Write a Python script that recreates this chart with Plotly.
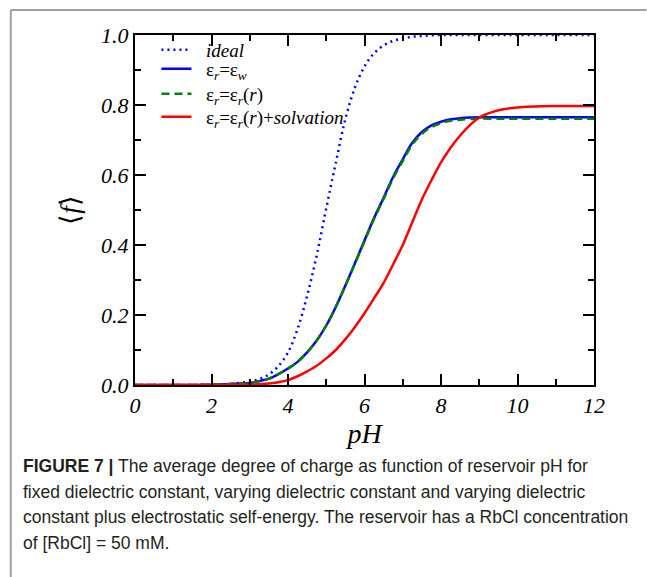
import plotly.graph_objects as go

ph = [0, 1, 2, 2.5, 3, 3.25, 3.5, 3.75, 4, 4.25, 4.5, 4.75, 5, 5.25, 5.5, 5.75,
      6, 6.25, 6.5, 6.75, 7, 7.25, 7.5, 7.75, 8, 8.25, 8.5, 8.75, 9, 9.5, 10, 11, 12]

f_ideal = [0, 0, 0.001, 0.003, 0.01, 0.017, 0.03, 0.054, 0.093, 0.16, 0.255, 0.37,
           0.505, 0.635, 0.76, 0.85, 0.91, 0.948, 0.97, 0.983, 0.99, 0.995, 0.997,
           0.999, 1.0, 1.0, 1.0, 1.0, 1.0, 1.0, 1.0, 1.0, 1.0]

f_epsw = [0, 0, 0.001, 0.003, 0.006, 0.011, 0.018, 0.031, 0.047, 0.066, 0.093, 0.127,
          0.170, 0.223, 0.284, 0.348, 0.413, 0.477, 0.535, 0.595, 0.645, 0.692, 0.723,
          0.742, 0.752, 0.759, 0.762, 0.764, 0.765, 0.765, 0.765, 0.765, 0.765]

f_epsr = [0, 0, 0.001, 0.003, 0.006, 0.011, 0.018, 0.031, 0.047, 0.066, 0.093, 0.127,
          0.170, 0.223, 0.284, 0.347, 0.411, 0.475, 0.532, 0.591, 0.640, 0.687, 0.718,
          0.737, 0.748, 0.755, 0.758, 0.760, 0.761, 0.761, 0.761, 0.761, 0.761]

f_solv = [0, 0, 0, 0.0005, 0.001, 0.002, 0.004, 0.008, 0.014, 0.025, 0.039, 0.055,
          0.076, 0.100, 0.131, 0.166, 0.205, 0.248, 0.292, 0.345, 0.40, 0.465, 0.53,
          0.585, 0.636, 0.678, 0.713, 0.742, 0.764, 0.785, 0.793, 0.797, 0.797]

pad = "\u00a0\u00a0"
names = [pad + "<i>ideal</i>",
         pad + "ε<sub><i>r</i></sub>=ε<sub><i>w</i></sub>",
         pad + "ε<sub><i>r</i></sub>=ε<sub><i>r</i></sub>(<i>r</i>)",
         pad + "ε<sub><i>r</i></sub>=ε<sub><i>r</i></sub>(<i>r</i>)+<i>solvation</i>"]

L, R, T, B = 134.5, 594.5, 35, 385
W, H = 647, 577
pw, phh = R - L, B - T

def px(x):
    return (x - L) / pw

def py(y):
    return (B - y) / phh

fig = go.Figure()
fig.add_trace(go.Scatter(x=ph, y=f_ideal, mode="lines", name=names[0], legend="legend",
                         line=dict(color="#0000ff", width=2.5, dash="2px,4px", shape="spline")))
fig.add_trace(go.Scatter(x=ph, y=f_epsw, mode="lines", name=names[1], legend="legend2",
                         line=dict(color="#0000ff", width=2.5, shape="spline")))
fig.add_trace(go.Scatter(x=ph, y=f_epsr, mode="lines", name=names[2], legend="legend3",
                         line=dict(color="#008000", width=2.5, dash="8px,5px", shape="spline")))
fig.add_trace(go.Scatter(x=ph, y=f_solv, mode="lines", name=names[3], legend="legend4",
                         line=dict(color="#ff0000", width=2.5, shape="spline")))

axis_font = dict(family="Liberation Serif", size=22, color="black")

def leg(top):
    return dict(x=px(156), y=py(top), xanchor="left", yanchor="top",
                bgcolor="rgba(0,0,0,0)", borderwidth=0,
                font=dict(family="Liberation Serif", size=19, color="black"),
                itemwidth=30)

fig.update_layout(
    width=W, height=H,
    margin=dict(l=L, r=W - R, t=T, b=H - B, pad=0),
    paper_bgcolor="white", plot_bgcolor="white",
    showlegend=True,
    legend=leg(31), legend2=leg(50), legend3=leg(75), legend4=leg(98),
    xaxis=dict(range=[0, 12], tickvals=[0, 2, 4, 6, 8, 10, 12],
               ticktext=["<i>0</i>", "<i>2</i>", "<i>4</i>", "<i>6</i>", "<i>8</i>", "<i>10</i>", "<i>12</i>"],
               ticks="inside", ticklen=11, tickwidth=2, tickcolor="black",
               minor=dict(dtick=1, ticks="inside", ticklen=6, tickwidth=2, tickcolor="black"),
               showline=True, linewidth=2, linecolor="black", mirror="ticks",
               showgrid=False, zeroline=False, tickfont=axis_font,
               title=dict(text="<i>pH</i>", font=dict(family="Liberation Serif", size=28, color="black"),
                          standoff=6)),
    yaxis=dict(range=[0, 1], tickvals=[0, 0.2, 0.4, 0.6, 0.8, 1.0],
               ticktext=["<i>0.0</i>", "<i>0.2</i>", "<i>0.4</i>", "<i>0.6</i>", "<i>0.8</i>", "<i>1.0</i>"],
               ticks="inside", ticklen=11, tickwidth=2, tickcolor="black",
               minor=dict(dtick=0.1, ticks="inside", ticklen=6, tickwidth=2, tickcolor="black"),
               showline=True, linewidth=2, linecolor="black", mirror="ticks",
               showgrid=False, zeroline=False, tickfont=axis_font,
               title=dict(text="⟨<i>f</i>⟩", font=dict(family="Liberation Serif", size=27, color="black"),
                          standoff=14)),
)

# figure frame (left and top border)
fig.add_shape(type="line", xref="paper", yref="paper",
              x0=px(10), y0=py(10), x1=px(W), y1=py(10),
              line=dict(color="#a0a0a0", width=2))
fig.add_shape(type="line", xref="paper", yref="paper",
              x0=px(10), y0=py(10), x1=px(10), y1=py(H),
              line=dict(color="#a0a0a0", width=2))

cap_font = dict(family="Liberation Sans", size=17.5, color="#231f20")
lines = [
    "<b>FIGURE 7 |</b> The average degree of charge as function of reservoir pH for",
    "fixed dielectric constant, varying dielectric constant and varying dielectric",
    "constant plus electrostatic self-energy. The reservoir has a RbCl concentration",
    "of [RbCl] = 50 mM.",
]
ys = [466, 492, 517, 543]
for t, yy in zip(lines, ys):
    fig.add_annotation(text=t, xref="paper", yref="paper", x=px(20), y=py(yy),
                       xanchor="left", yanchor="middle", showarrow=False, font=cap_font)

fig.write_html("out.html")
